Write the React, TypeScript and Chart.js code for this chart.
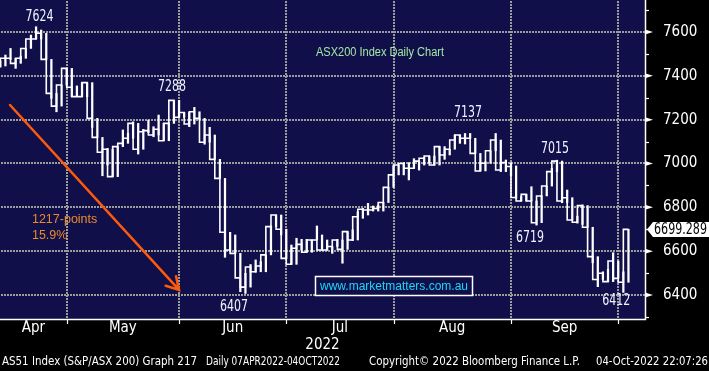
import React, { useEffect, useRef } from 'react';
import { Chart, registerables } from 'chart.js';

Chart.register(...registerables);

// ---- Data: ASX200 daily bars (index 0 = 07-Apr-2022) ----
const highs = [
  7495, 7470, 7495, 7525, 7480, 7490, 7525, 7586, 7624, 7609,
  7594, 7475, 7320, 7358, 7434, 7434, 7354, 7369, 7369, 7369,
  7206, 7119, 7069, 7065, 7077, 7153, 7138, 7190, 7183, 7156,
  7198, 7168, 7221, 7183, 7186, 7288, 7288, 7233, 7233, 7256,
  7236, 7206, 7165, 7130, 7019, 6932, 6686, 6674, 6590, 6499,
  6539, 6560, 6552, 6583, 6715, 6765, 6765, 6700, 6628, 6659,
  6654, 6654, 6651, 6715, 6674, 6651, 6621, 6654, 6651, 6689,
  6697, 6780, 6795, 6818, 6806, 6811, 6822, 6891, 6990, 6993,
  7004, 7004, 7022, 7011, 7028, 7034, 7034, 7077, 7077, 7065,
  7130, 7130, 7137, 7137, 7115, 7046, 7008, 7058, 7137, 7107,
  7016, 7004, 6989, 6849, 6859, 6894, 6829, 6852, 6897, 6978,
  7015, 7011, 6879, 6844, 6760, 6811, 6808, 6709, 6575, 6506,
  6517, 6593, 6555, 6506, 6700,
];
const lows = [
  7450, 7440, 7445, 7475, 7434, 7457, 7480, 7525, 7568, 7568,
  7475, 7297, 7236, 7262, 7358, 7305, 7305, 7305, 7305, 7165,
  7119, 6944, 6993, 6940, 6940, 7077, 7092, 7115, 7043, 7065,
  7141, 7122, 7130, 7104, 7104, 7183, 7211, 7211, 7168, 7180,
  7202, 7088, 7097, 7019, 6932, 6572, 6600, 6590, 6415, 6407,
  6436, 6504, 6506, 6506, 6583, 6712, 6674, 6567, 6540, 6540,
  6605, 6595, 6595, 6651, 6605, 6605, 6590, 6621, 6545, 6608,
  6648, 6651, 6750, 6765, 6783, 6783, 6783, 6822, 6891, 6948,
  6948, 6925, 6978, 6970, 6993, 7004, 6993, 6993, 7019, 7039,
  7065, 7092, 7089, 7115, 7046, 6966, 6966, 7001, 7058, 6963,
  6963, 6945, 6841, 6829, 6829, 6829, 6719, 6730, 6852, 6897,
  6963, 6821, 6821, 6742, 6728, 6722, 6709, 6547, 6438, 6471,
  6461, 6461, 6476, 6412, 6458,
];
const closes = [
  7470, 7445, 7480, 7480, 7457, 7480, 7525, 7568, 7568, 7594,
  7475, 7320, 7262, 7358, 7434, 7348, 7305, 7305, 7369, 7206,
  7119, 7051, 7065, 6940, 7077, 7092, 7115, 7183, 7065, 7145,
  7150, 7130, 7156, 7104, 7183, 7288, 7211, 7233, 7180, 7236,
  7206, 7097, 7130, 7019, 6932, 6686, 6605, 6590, 6478, 6436,
  6528, 6506, 6532, 6583, 6712, 6765, 6700, 6567, 6540, 6613,
  6631, 6595, 6651, 6651, 6605, 6605, 6621, 6651, 6608, 6689,
  6651, 6757, 6791, 6788, 6788, 6795, 6822, 6891, 6948, 6993,
  7000, 6978, 6978, 7011, 7024, 7034, 6993, 7077, 7039, 7065,
  7107, 7130, 7115, 7115, 7046, 6966, 7001, 7058, 7107, 6970,
  7004, 6986, 6845, 6829, 6859, 6829, 6730, 6852, 6897, 6963,
  7011, 6829, 6844, 6742, 6732, 6808, 6709, 6575, 6471, 6499,
  6461, 6555, 6476, 6458, 6699.289,
];

const monthLabels = ['Apr', 'May', 'Jun', 'Jul', 'Aug', 'Sep'];
const monthStarts = [14, 36, 57, 78, 101, 122]; // bar index of first trading day of May..Oct
const yTicks = [6300, 6400, 6500, 6600, 6700, 6800, 6900, 7000, 7100, 7200, 7300, 7400, 7500, 7600, 7700];
const yearLabel = '2022';
const lastPrice = 6699.289;

const footerTexts = [
  'AS51 Index (S&P/ASX 200) Graph 217',
  'Daily 07APR2022-04OCT2022',
  'Copyright\u00A9 2022 Bloomberg Finance L.P.',
  '04-Oct-2022 22:07:26',
];

// annotation anchors in data units (bar index, index level)
const peakNotes = [
  { text: '7624', x: 8.67, y: 7666 },
  { text: '7288', x: 34.62, y: 7349 },
  { text: '6407', x: 46.76, y: 6345 },
  { text: '7137', x: 92.58, y: 7230 },
  { text: '7015', x: 109.6, y: 7066 },
  { text: '6719', x: 104.72, y: 6660 },
  { text: '6412', x: 121.6, y: 6373 },
];
const dropNotes = ['1217-points', '15.9%'];
const titleText = 'ASX200 Index Daily Chart';
const siteText = 'www.marketmatters.com.au';

const X_MIN = 0.94;
const X_MAX = 127.24;
const Y_MIN = 6290.5;
const Y_MAX = 7746;

const NARROW = "'Liberation Sans Narrow', 'Arial Narrow', 'DejaVu Sans Condensed', sans-serif";
const REG = "'Liberation Sans', Arial, sans-serif";
const NAVY = '#110f4a';
const GRID = '#9c9c9c';
const ORANGE = '#ff5a0a';

export default function App() {
  const ref = useRef<HTMLCanvasElement | null>(null);

  useEffect(() => {
    const canvas = ref.current;
    if (!canvas) return;

    const decor = {
      id: 'decor',
      beforeDraw(chart: any) {
        const { ctx, chartArea: ca } = chart;
        ctx.save();
        ctx.fillStyle = NAVY;
        ctx.fillRect(ca.left, ca.top, ca.right - ca.left, ca.bottom - ca.top);
        ctx.restore();
      },
      beforeDatasetsDraw(chart: any) {
        // dotted grid behind the bars
        const { ctx, chartArea: ca } = chart;
        const xs = chart.scales.x;
        const ys = chart.scales.y;
        ctx.save();
        ctx.fillStyle = GRID;
        yTicks.forEach((v) => {
          if (v % 200 !== 0) return;
          const py = Math.round(ys.getPixelForValue(v));
          for (let px = Math.ceil(ca.left) + 1; px < ca.right - 1; px += 3) {
            ctx.fillRect(px, py - 1, 2, 2);
          }
        });
        monthStarts.forEach((v) => {
          const px = Math.round(xs.getPixelForValue(v));
          for (let py = Math.ceil(ca.top) + 1; py < ca.bottom - 1; py += 3) {
            ctx.fillRect(px - 1, py, 2, 2);
          }
        });
        ctx.restore();
      },
      afterDraw(chart: any) {
        const { ctx, chartArea: ca } = chart;
        const xs = chart.scales.x;
        const ys = chart.scales.y;
        ctx.save();

        // axis lines
        ctx.strokeStyle = '#ffffff';
        ctx.lineWidth = 1.5;
        ctx.beginPath();
        ctx.moveTo(ca.left, ca.bottom + 0.5);
        ctx.lineTo(ca.right + 0.5, ca.bottom + 0.5);
        ctx.lineTo(ca.right + 0.5, ca.top);
        ctx.stroke();

        // x-axis month tick marks
        ctx.lineWidth = 1.2;
        monthStarts.forEach((v) => {
          const px = Math.round(xs.getPixelForValue(v)) + 0.5;
          ctx.beginPath();
          ctx.moveTo(px, ca.bottom);
          ctx.lineTo(px, ca.bottom + 5);
          ctx.stroke();
        });

        // right-axis tick marks: arrows at labelled ticks, short lines otherwise
        ctx.fillStyle = '#ffffff';
        yTicks.forEach((v) => {
          const py = ys.getPixelForValue(v);
          if (v % 200 === 0) {
            ctx.beginPath();
            ctx.moveTo(ca.right, py - 2.5);
            ctx.lineTo(ca.right + 8, py);
            ctx.lineTo(ca.right, py + 2.5);
            ctx.closePath();
            ctx.fill();
          } else {
            const yy = Math.round(py) + 0.5;
            ctx.beginPath();
            ctx.moveTo(ca.right, yy);
            ctx.lineTo(ca.right + 4, yy);
            ctx.stroke();
          }
        });

        // month labels centred in each month
        const bounds = [X_MIN, ...monthStarts];
        ctx.font = `15px ${NARROW}`;
        ctx.textAlign = 'center';
        ctx.textBaseline = 'middle';
        ctx.fillStyle = '#ffffff';
        monthLabels.forEach((m, i) => {
          const mid = (bounds[i] + bounds[i + 1]) / 2;
          ctx.fillText(m, xs.getPixelForValue(mid), 328);
        });
        ctx.fillText(yearLabel, (ca.left + ca.right) / 2, 345);

        // footer
        ctx.font = `13px ${NARROW}`;
        ctx.textAlign = 'left';
        const fx = [2, 206, 369, 596];
        const fw = [195, 134, 211, 112];
        footerTexts.forEach((t, i) => ctx.fillText(t, fx[i], 362, fw[i]));

        // price annotations
        ctx.font = `15px ${NARROW}`;
        ctx.textAlign = 'center';
        ctx.fillStyle = '#eef4ff';
        peakNotes.forEach((n) => {
          ctx.fillText(n.text, xs.getPixelForValue(n.x), ys.getPixelForValue(n.y), 28);
        });

        // title
        ctx.font = `12px ${REG}`;
        ctx.fillStyle = '#a4e8a4';
        ctx.fillText(titleText, xs.getPixelForValue(75.35), ys.getPixelForValue(7504), 128);

        // drop annotation
        ctx.font = `12.5px ${REG}`;
        ctx.textAlign = 'left';
        ctx.fillStyle = '#ea8a2c';
        ctx.fillText(dropNotes[0], xs.getPixelForValue(7.2), ys.getPixelForValue(6744));
        ctx.fillText(dropNotes[1], xs.getPixelForValue(7.2), ys.getPixelForValue(6671));

        // arrow
        const ax1 = xs.getPixelForValue(2.9), ay1 = ys.getPixelForValue(7267);
        const ax2 = xs.getPixelForValue(36.0), ay2 = ys.getPixelForValue(6423);
        ctx.strokeStyle = ORANGE;
        ctx.lineWidth = 2.5;
        ctx.lineCap = 'round';
        ctx.beginPath();
        ctx.moveTo(ax1, ay1);
        ctx.lineTo(ax2, ay2);
        const ang = Math.atan2(ay1 - ay2, ax1 - ax2);
        const wing = 14;
        const spread = Math.PI / 6;
        ctx.moveTo(ax2 + wing * Math.cos(ang - spread), ay2 + wing * Math.sin(ang - spread));
        ctx.lineTo(ax2, ay2);
        ctx.lineTo(ax2 + wing * Math.cos(ang + spread), ay2 + wing * Math.sin(ang + spread));
        ctx.stroke();

        // website box
        const bx1 = Math.round(xs.getPixelForValue(62.6)) + 0.5, bx2 = Math.round(xs.getPixelForValue(93.4)) + 0.5;
        const by1 = Math.round(ys.getPixelForValue(6487)) + 0.5, by2 = Math.round(ys.getPixelForValue(6400)) + 0.5;
        ctx.fillStyle = NAVY;
        ctx.fillRect(bx1, by1, bx2 - bx1, by2 - by1);
        ctx.strokeStyle = '#ffffff';
        ctx.lineWidth = 1.5;
        ctx.lineCap = 'butt';
        ctx.strokeRect(bx1, by1, bx2 - bx1, by2 - by1);
        ctx.font = `12px ${REG}`;
        ctx.fillStyle = '#1ad8f5';
        ctx.textAlign = 'center';
        ctx.fillText(siteText, (bx1 + bx2) / 2, (by1 + by2) / 2 + 0.5, 152);

        // last price tag
        const py = ys.getPixelForValue(lastPrice);
        const tx = ca.right + 2;
        ctx.fillStyle = '#ffffff';
        ctx.beginPath();
        ctx.moveTo(tx, py);
        ctx.lineTo(tx + 6, py - 7.5);
        ctx.lineTo(709, py - 7.5);
        ctx.lineTo(709, py + 7.5);
        ctx.lineTo(tx + 6, py + 7.5);
        ctx.closePath();
        ctx.fill();
        ctx.fillStyle = '#000000';
        ctx.textAlign = 'left';
        ctx.font = `15px ${NARROW}`;
        ctx.fillText(lastPrice.toFixed(3), tx + 7, py + 0.5, 53);

        ctx.restore();
      },
    };

    const chart = new Chart(canvas, {
      type: 'bar',
      data: {
        datasets: [
          {
            type: 'line',
            data: closes.map((c, i) => ({ x: i, y: c })),
            stepped: 'after',
            borderColor: '#ffffff',
            borderWidth: 1.6,
            pointRadius: 0,
            fill: false,
          } as any,
          {
            type: 'bar',
            data: highs.map((h, i) => ({ x: i, y: [lows[i], h] })),
            backgroundColor: '#ffffff',
            borderWidth: 0,
            barThickness: 1.6,
            grouped: false,
          } as any,
        ],
      },
      options: {
        animation: false,
        responsive: true,
        maintainAspectRatio: false,
        events: [],
        layout: { padding: 0 },
        plugins: { legend: { display: false }, tooltip: { enabled: false } },
        scales: {
          x: {
            type: 'linear',
            min: X_MIN,
            max: X_MAX,
            offset: false,
            afterBuildTicks: (s: any) => {
              s.ticks = monthStarts.map((v) => ({ value: v }));
            },
            ticks: { display: false },
            grid: { display: false, offset: false },
            border: { display: false },
            afterFit: (s: any) => {
              s.height = 52;
              s.paddingLeft = 0;
              s.paddingRight = 0;
            },
          } as any,
          y: {
            type: 'linear',
            position: 'right',
            min: Y_MIN,
            max: Y_MAX,
            beginAtZero: false,
            afterBuildTicks: (s: any) => {
              s.ticks = yTicks.map((v) => ({ value: v }));
            },
            ticks: {
              color: '#ffffff',
              font: { family: NARROW, size: 15 },
              padding: 10,
              callback: (v: any) => (Number(v) % 200 === 0 ? String(v) : ''),
            },
            grid: { display: false },
            border: { display: false },
            afterFit: (s: any) => {
              s.width = 64;
              s.paddingTop = 0;
              s.paddingBottom = 0;
            },
          } as any,
        },
      },
      plugins: [decor],
    });

    return () => chart.destroy();
  }, []);

  return (
    <div style={{ position: 'fixed', left: 0, top: 0, width: 709, height: 371, background: '#000' }}>
      <canvas ref={ref} />
    </div>
  );
}
